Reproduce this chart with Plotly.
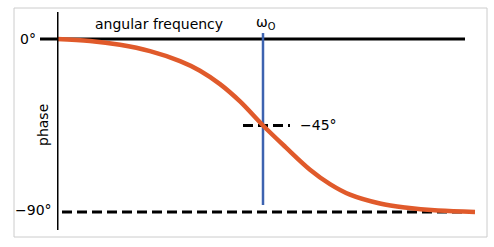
import plotly.graph_objects as go

# ---- data ----
freq = [0.0, 0.33, 0.63, 0.93, 1.23, 1.43, 1.63, 1.83, 2.06, 2.28, 2.53,
        2.73, 2.93, 3.23, 3.48, 3.81, 4.18]
phase = [0.0, -1.0, -3.0, -6.3, -11.5, -16.5, -23.5, -32.5, -45.0, -56.0, -68.0,
         -75.5, -81.0, -85.6, -87.7, -89.3, -90.0]
omega0 = 2.06
level_top = 0
level_mid = -45
level_bot = -90
tick_labels = ["0°", "−90°"]

X_RANGE = [0, 4.2]
Y_RANGE = [-99.4, 14.05]

def xp(x):
    return (x - X_RANGE[0]) / (X_RANGE[1] - X_RANGE[0])

FONT = "DejaVu Sans"
ORANGE = "#e05a2b"
BLUE = "#3d63b0"

fig = go.Figure()

fig.add_trace(go.Scatter(
    x=freq, y=phase, mode="lines",
    line=dict(color=ORANGE, width=4.5, shape="spline", smoothing=1.0),
    hoverinfo="skip", showlegend=False,
))

shapes = [
    # outer border
    dict(type="rect", xref="paper", yref="paper",
         x0=(14 - 57) / 420, x1=(487 - 57) / 420,
         y0=(230 - 237) / 218, y1=(230 - 8) / 218,
         line=dict(color="#cccccc", width=1), layer="below"),
    # 0° solid line (with tick extending left of axis)
    dict(type="line", xref="paper", yref="y",
         x0=xp(-0.17), x1=xp(4.08), y0=level_top, y1=level_top,
         line=dict(color="black", width=3), layer="below"),
    # -90° dashed line
    dict(type="line", xref="x", yref="y",
         x0=0.05, x1=4.05, y0=level_bot, y1=level_bot,
         line=dict(color="black", width=3, dash="10px,5px"), layer="below"),
    # omega0 vertical line
    dict(type="line", xref="x", yref="y",
         x0=omega0, x1=omega0, y0=3.1, y1=-86.4,
         line=dict(color=BLUE, width=2.5), layer="below"),
    # -45° dashed marker
    dict(type="line", xref="x", yref="y",
         x0=omega0 - 0.2, x1=omega0 + 0.27, y0=level_mid, y1=level_mid,
         line=dict(color="black", width=3, dash="10px,5px"), layer="below"),
    # vertical axis
    dict(type="line", xref="x", yref="paper",
         x0=0, x1=0, y0=0, y1=1,
         line=dict(color="black", width=3)),
]

tf = dict(family=FONT, size=14, color="black")
annotations = [
    dict(text="angular frequency", xref="paper", yref="paper",
         x=xp(1.015), y=(230 - 24) / 218, showarrow=False,
         xanchor="center", yanchor="middle", font=tf),
    dict(text="ω<sub>O</sub>", xref="x", yref="paper",
         x=omega0 + 0.03, y=(230 - 23) / 218, showarrow=False,
         xanchor="center", yanchor="middle", font=tf),
    dict(text=tick_labels[0], xref="paper", yref="y",
         x=xp(-0.19), y=level_top, showarrow=False,
         xanchor="right", yanchor="middle", font=tf),
    dict(text=tick_labels[1], xref="paper", yref="y",
         x=xp(-0.03), y=level_bot + 1.2, showarrow=False,
         xanchor="right", yanchor="middle", font=tf),
    dict(text="−45°", xref="x", yref="y",
         x=omega0 + 0.35, y=level_mid, showarrow=False,
         xanchor="left", yanchor="middle", font=tf),
    dict(text="phase", xref="paper", yref="paper",
         x=xp(-0.14), y=(230 - 125) / 218, showarrow=False,
         textangle=-90, xanchor="center", yanchor="middle", font=tf),
]

fig.update_layout(
    width=494, height=247,
    margin=dict(l=57, r=17, t=12, b=17),
    paper_bgcolor="white", plot_bgcolor="white",
    xaxis=dict(range=X_RANGE, visible=False, fixedrange=True),
    yaxis=dict(range=Y_RANGE, visible=False, fixedrange=True),
    shapes=shapes, annotations=annotations,
    showlegend=False,
)

fig.write_html("out.html")
